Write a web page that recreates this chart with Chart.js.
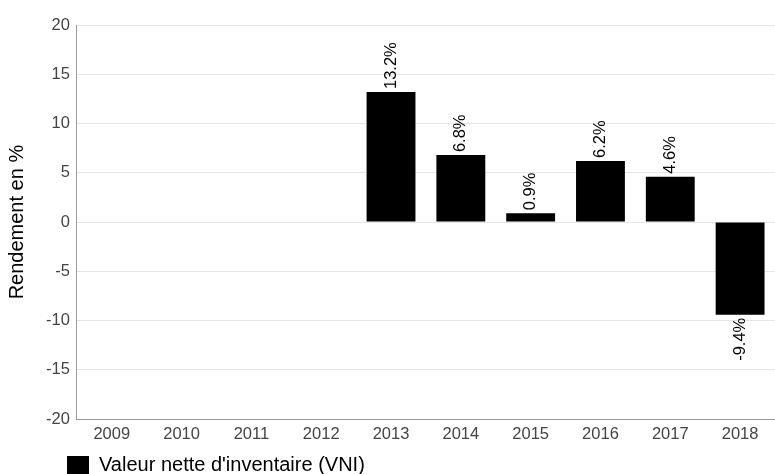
<!DOCTYPE html>
<html>
<head>
<meta charset="utf-8">
<script src="https://cdn.jsdelivr.net/npm/chart.js@4"></script>
<style>
  html, body { margin: 0; padding: 0; background: #fff; }
  #wrap { width: 775px; height: 474px; }
</style>
</head>
<body>
<div id="wrap"><canvas id="graficaRendement" width="775" height="474"></canvas></div>
<script>
// donnees
const annees = ['2009', '2010', '2011', '2012', '2013', '2014', '2015', '2016', '2017', '2018'];
const rendementVNI = [null, null, null, null, 13.2, 6.8, 0.9, 6.2, 4.6, -9.4];
const serieNom = "Valeur nette d'inventaire (VNI)";
const axeYTitre = 'Rendement en %';

const police = '"Liberation Sans", Arial, sans-serif';

// etiquettes tournees au bout des barres
const etiquettesBarres = {
    id: 'etiquettesBarres',
    afterDatasetsDraw(chart) {
        const ctx = chart.ctx;
        const meta = chart.getDatasetMeta(0);
        ctx.save();
        ctx.font = '16.5px ' + police;
        ctx.fillStyle = '#000';
        ctx.textBaseline = 'middle';
        meta.data.forEach(function (bar, i) {
            const v = rendementVNI[i];
            if (v === null) return;
            ctx.save();
            ctx.translate(bar.x, bar.y);
            ctx.rotate(-Math.PI / 2);
            if (v >= 0) {
                ctx.textAlign = 'left';
                ctx.fillText(v.toFixed(1) + '%', 3, 0);
            } else {
                ctx.textAlign = 'right';
                ctx.fillText(v.toFixed(1) + '%', -3, 0);
            }
            ctx.restore();
        });
        ctx.restore();
    }
};

// decale la legende comme sur l'original
const decaleLegende = {
    id: 'decaleLegende',
    afterLayout(chart) {
        chart.legend.left += 60;
        chart.legend.top += 4;
        chart.legend.bottom += 4;
    }
};

new Chart(document.getElementById('graficaRendement'), {
    type: 'bar',
    data: {
        labels: annees,
        datasets: [{
            label: serieNom,
            data: rendementVNI,
            backgroundColor: '#000',
            borderColor: '#000',
            borderWidth: 0,
            barPercentage: 0.7,
            categoryPercentage: 1.0
        }]
    },
    options: {
        responsive: false,
        animation: false,
        layout: { padding: { top: 25, right: 0, left: 5, bottom: -7 } },
        plugins: {
            legend: {
                position: 'bottom',
                align: 'start',
                labels: {
                    boxWidth: 22,
                    boxHeight: 18,
                    padding: 2,
                    color: '#000',
                    font: { size: 20, family: police }
                }
            },
            tooltip: { enabled: false }
        },
        scales: {
            x: {
                grid: { display: false, drawTicks: false },
                border: { color: '#999', width: 1 },
                ticks: {
                    color: '#444',
                    padding: 5,
                    font: { size: 16.5, family: police }
                }
            },
            y: {
                min: -20,
                max: 20,
                ticks: {
                    stepSize: 5,
                    color: '#444',
                    padding: 7,
                    font: { size: 16.5, family: police }
                },
                grid: { color: '#e6e6e6', drawTicks: false },
                border: { color: '#999', width: 1 },
                title: {
                    display: true,
                    text: axeYTitre,
                    color: '#000',
                    padding: { top: 0, bottom: 10 },
                    font: { size: 20, family: police }
                }
            }
        }
    },
    plugins: [etiquettesBarres, decaleLegende]
});
</script>
</body>
</html>
